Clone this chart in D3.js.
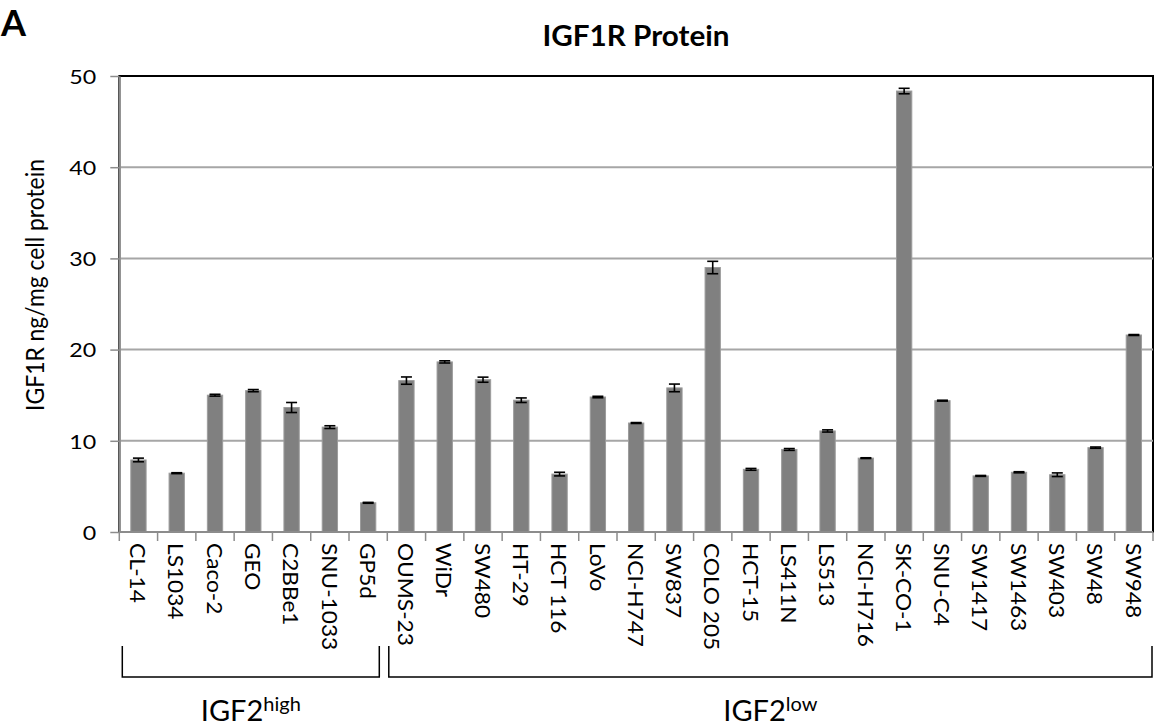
<!DOCTYPE html>
<html>
<head>
<meta charset="utf-8">
<script src="https://cdn.jsdelivr.net/npm/d3@7"></script>
<style>
  body { margin: 0; background: #fff; }
  svg { display: block; font-family: Lato, "Open Sans", sans-serif; }
</style>
</head>
<body>
<svg id="chart" width="1158" height="727"></svg>
<script>
// Colorectal cancer cell lines, IGF1R protein (ng/mg cell protein), mean and error
const cellLines = ["CL-14", "LS1034", "Caco-2", "GEO", "C2BBe1", "SNU-1033", "GP5d",
  "OUMS-23", "WiDr", "SW480", "HT-29", "HCT 116", "LoVo", "NCI-H747", "SW837",
  "COLO 205", "HCT-15", "LS411N", "LS513", "NCI-H716", "SK-CO-1", "SNU-C4",
  "SW1417", "SW1463", "SW403", "SW48", "SW948"];
const igf1r = [7.9, 6.45, 15.0, 15.5, 13.65, 11.5, 3.2,
  16.6, 18.65, 16.7, 14.45, 6.35, 14.8, 11.95, 15.8,
  29.0, 6.87, 9.05, 11.08, 8.1, 48.35, 14.4,
  6.15, 6.55, 6.28, 9.25, 21.6];
const igf1rErr = [0.2, 0.05, 0.1, 0.12, 0.55, 0.15, 0.05,
  0.4, 0.12, 0.28, 0.25, 0.2, 0.08, 0.05, 0.42,
  0.68, 0.1, 0.1, 0.12, 0.04, 0.3, 0.05,
  0.05, 0.06, 0.2, 0.07, 0.05];
const yTicks = [0, 10, 20, 30, 40, 50];

// IGF2 expression groups (bracketed under the axis)
const groupNames = ["IGF2", "IGF2"];
const groupSup = ["high", "low"];
const groupFirst = ["CL-14", "OUMS-23"];
const groupLast = ["GP5d", "SW948"];

const svg = d3.select("#chart");
const plot = { left: 119.3, right: 1153, top: 76, bottom: 532 };

// horizontal stretch factor that makes a text node span the wanted width
const stretchTo = (node, width) => width / node.getComputedTextLength();

const x = d3.scaleBand()
  .domain(cellLines)
  .range([plot.left, plot.right])
  .paddingInner(0.6)
  .paddingOuter(0.3);
const y = d3.scaleLinear().domain([0, 50]).range([plot.bottom, plot.top]);

const step = x.step();
const bandLeft = d => x(d) - (step - x.bandwidth()) / 2;
const bandRight = d => bandLeft(d) + step;

// plot-area frame
svg.append("rect")
  .attr("x", plot.left).attr("y", plot.top)
  .attr("width", plot.right - plot.left).attr("height", plot.bottom - plot.top)
  .attr("fill", "none").attr("stroke", "#000").attr("stroke-width", 2);

// horizontal gridlines
svg.append("g").selectAll("line")
  .data(yTicks.filter(t => t > 0 && t < 50))
  .join("line")
  .attr("x1", plot.left).attr("x2", plot.right)
  .attr("y1", d => y(d)).attr("y2", d => y(d))
  .attr("stroke", "#a6a6a6").attr("stroke-width", 2);

// bars
svg.append("g").selectAll("rect")
  .data(cellLines)
  .join("rect")
  .attr("x", d => x(d))
  .attr("width", x.bandwidth())
  .attr("y", (d, i) => y(igf1r[i]))
  .attr("height", (d, i) => y(0) - y(igf1r[i]))
  .attr("fill", "#808080")
  .attr("stroke", "#9c9c9c")
  .attr("stroke-width", 1);

// error bars
const capHalf = 5.5;
const eb = svg.append("g").attr("stroke", "#000").attr("stroke-width", 1.6);
cellLines.forEach((d, i) => {
  const cx = x(d) + x.bandwidth() / 2;
  const hi = y(igf1r[i] + igf1rErr[i]);
  const lo = y(igf1r[i] - igf1rErr[i]);
  eb.append("line").attr("x1", cx).attr("x2", cx).attr("y1", hi).attr("y2", lo);
  eb.append("line").attr("x1", cx - capHalf).attr("x2", cx + capHalf).attr("y1", hi).attr("y2", hi);
  eb.append("line").attr("x1", cx - capHalf).attr("x2", cx + capHalf).attr("y1", lo).attr("y2", lo);
});

// y axis
const yAxis = svg.append("g")
  .attr("transform", `translate(${plot.left},0)`)
  .call(d3.axisLeft(y).tickValues(yTicks).tickSize(9).tickSizeOuter(0));
yAxis.select(".domain").attr("stroke", "#8c8c8c").attr("stroke-width", 2);
yAxis.selectAll(".tick line").attr("stroke", "#8c8c8c").attr("stroke-width", 1.5);
const tickText = yAxis.selectAll(".tick text")
  .attr("x", 0).attr("dy", null)
  .attr("dominant-baseline", "central")
  .attr("font-family", "Lato, 'Open Sans', sans-serif")
  .attr("font-size", 20)
  .attr("fill", "#000");
const tickSx = stretchTo(tickText.filter(d => d === 50).node(), 27);
tickText.attr("transform", `translate(-23,0) scale(${tickSx},1)`);

// x axis: baseline and boundary ticks
const xAxis = svg.append("g");
xAxis.append("line")
  .attr("x1", plot.left).attr("x2", plot.right)
  .attr("y1", plot.bottom).attr("y2", plot.bottom)
  .attr("stroke", "#8c8c8c").attr("stroke-width", 2);
xAxis.selectAll("line.tick")
  .data(cellLines.map(bandLeft).concat([bandRight(cellLines[cellLines.length - 1])]))
  .join("line").attr("class", "tick")
  .attr("x1", d => d).attr("x2", d => d)
  .attr("y1", plot.bottom).attr("y2", plot.bottom + 9)
  .attr("stroke", "#8c8c8c").attr("stroke-width", 1.5);

// rotated cell-line labels
const xLabels = svg.append("g").selectAll("text")
  .data(cellLines)
  .join("text")
  .attr("dominant-baseline", "central")
  .attr("font-size", 21.5)
  .attr("fill", "#000")
  .text(d => d);
const labelSx = stretchTo(xLabels.filter(d => d === "NCI-H716").node(), 104);
xLabels.attr("transform", d =>
  `translate(${x(d) + x.bandwidth() / 2},543) rotate(90) scale(${labelSx},1)`);

// y-axis title
const yTitle = svg.append("text")
  .attr("text-anchor", "middle")
  .attr("font-size", 25)
  .attr("fill", "#000")
  .text("IGF1R ng/mg cell protein");
yTitle.attr("transform", `translate(44,285) rotate(-90) scale(${stretchTo(yTitle.node(), 252)},1)`);

// chart title
const title = svg.append("text")
  .attr("text-anchor", "middle")
  .attr("font-size", 28)
  .attr("font-weight", "bold")
  .attr("fill", "#000")
  .text("IGF1R Protein");
title.attr("transform", `translate(636,46) scale(${stretchTo(title.node(), 187)},1)`);

// panel letter
svg.append("text")
  .attr("x", 1).attr("y", 36)
  .attr("font-size", 36)
  .attr("font-weight", "bold")
  .attr("fill", "#000")
  .text("A");

// group brackets
const insets = [[3, 8], [1.5, 1]];
const brTop = 646, brBottom = 677;
groupNames.forEach((name, g) => {
  const x0 = bandLeft(groupFirst[g]) + insets[g][0];
  const x1 = bandRight(groupLast[g]) - insets[g][1];
  svg.append("path")
    .attr("d", `M${x0},${brTop}V${brBottom}H${x1}V${brTop}`)
    .attr("fill", "none").attr("stroke", "#000").attr("stroke-width", 1.5);
  const t = svg.append("text")
    .attr("x", (x0 + x1) / 2).attr("y", 721)
    .attr("text-anchor", "middle")
    .attr("font-size", 29)
    .attr("fill", "#000");
  t.append("tspan").text(name);
  t.append("tspan").attr("font-size", 20).attr("dy", -10).text(groupSup[g]);
});
</script>
</body>
</html>
